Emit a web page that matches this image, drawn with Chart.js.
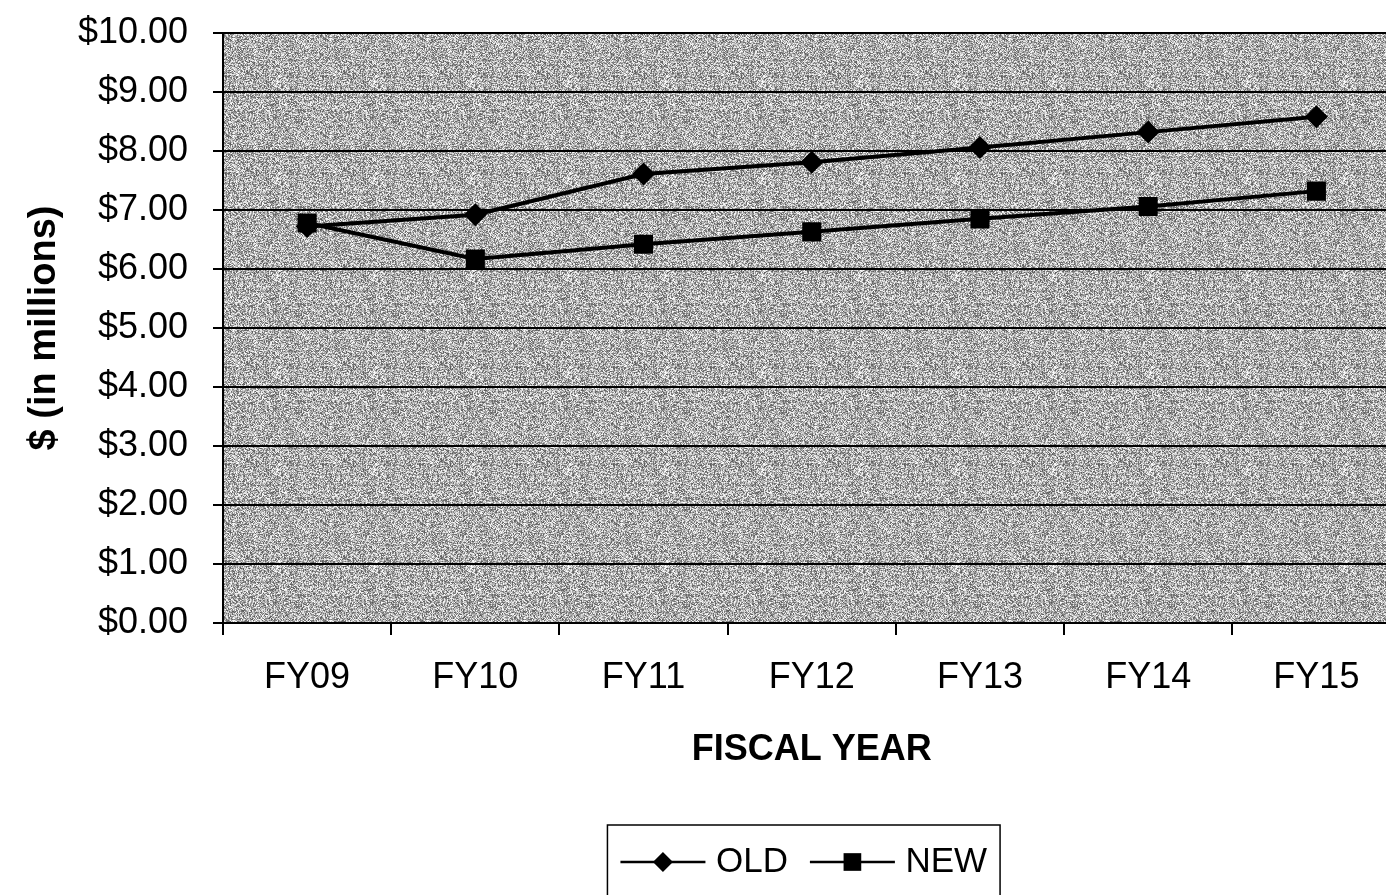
<!DOCTYPE html>
<html><head><meta charset="utf-8">
<script src="https://cdn.jsdelivr.net/npm/chart.js@4/dist/chart.umd.min.js"></script>
<style>
html,body{margin:0;padding:0;background:#fff;overflow:hidden;width:1386px;height:895px}
#wrap{position:relative;width:1414px;height:895px}
</style></head><body>
<div id="wrap"><canvas id="c"></canvas></div>
<script>
// ---- data ----
const categories = ['FY09', 'FY10', 'FY11', 'FY12', 'FY13', 'FY14', 'FY15'];
const oldValues = [6.72, 6.92, 7.61, 7.81, 8.06, 8.32, 8.58];
const newValues = [6.78, 6.17, 6.42, 6.63, 6.85, 7.06, 7.32];
const seriesNames = ['OLD', 'NEW'];
const yMin = 0, yMax = 10, yStep = 1;
const xTitle = 'FISCAL YEAR';
const yTitle = '$ (in millions)';

const FONT = '"Liberation Sans", Arial, Helvetica, sans-serif';
const LEG_LINE = 85;
const DIAMOND_R = 11.5;
const SQUARE_R = 13.5;

function makeTexture(ctx) {
  const s = 97;
  const c = document.createElement('canvas');
  c.width = c.height = s;
  const g = c.getContext('2d');
  const img = g.createImageData(s, s);
  for (let y = 0; y < s; y++) {
    for (let x = 0; x < s; x++) {
      let h = Math.sin(x * 12.9898 + y * 78.233) * 43758.5453;
      h -= Math.floor(h);
      const v = Math.round(90 + h * 165);
      const i = (y * s + x) * 4;
      img.data[i] = img.data[i + 1] = img.data[i + 2] = v;
      img.data[i + 3] = 255;
    }
  }
  g.putImageData(img, 0, 0);
  return ctx.createPattern(c, 'repeat');
}

const plotBg = {
  id: 'plotBg',
  beforeDraw(chart) {
    const {ctx, chartArea: a} = chart;
    ctx.save();
    ctx.fillStyle = makeTexture(ctx);
    ctx.fillRect(a.left, a.top, a.right - a.left, a.bottom - a.top);
    ctx.restore();
  }
};

const legendPlace = {
  id: 'legendPlace',
  afterLayout(chart) {
    const lg = chart.legend, a = chart.chartArea;
    if (!lg) return;
    lg.left = a.left - 8; lg.right = a.right - 8;
    lg.top -= 5.5; lg.bottom -= 5.5;
  }
};

const legendDecor = {
  id: 'legendDecor',
  afterDraw(chart) {
    const lg = chart.legend;
    if (!lg || !lg.legendHitBoxes) return;
    const ctx = chart.ctx;
    const boxes = lg.legendHitBoxes;
    ctx.save();
    boxes.forEach((hb, i) => {
      const ds = chart.data.datasets[i];
      const cy = hb.top + hb.height / 2;
      ctx.strokeStyle = '#000';
      ctx.lineWidth = 2.5;
      ctx.beginPath();
      ctx.moveTo(hb.left, cy);
      ctx.lineTo(hb.left + LEG_LINE, cy);
      ctx.stroke();
      ctx.fillStyle = '#000';
      Chart.helpers.drawPoint(ctx, {
        pointStyle: ds.pointStyle, radius: ds.pointStyle === 'rect' ? 12.5 : 10,
        rotation: 0, borderWidth: 0
      }, hb.left + LEG_LINE / 2, cy);
    });
    const first = boxes[0], last = boxes[boxes.length - 1];
    const cy = first.top + first.height / 2;
    const left = first.left - 13, right = last.left + last.width + 13;
    ctx.strokeStyle = '#000';
    ctx.lineWidth = 1.5;
    ctx.strokeRect(left, cy - 37, right - left, 80);
    ctx.restore();
  }
};

new Chart(document.getElementById('c'), {
  type: 'line',
  data: {
    labels: categories,
    datasets: [
      {
        label: seriesNames[0], data: oldValues, order: 1,
        borderColor: '#000', backgroundColor: '#000', borderWidth: 4,
        pointStyle: 'rectRot', pointRadius: DIAMOND_R, pointBorderWidth: 0,
        pointBackgroundColor: '#000', pointBorderColor: '#000', tension: 0
      },
      {
        label: seriesNames[1], data: newValues, order: 0,
        borderColor: '#000', backgroundColor: '#000', borderWidth: 4,
        pointStyle: 'rect', pointRadius: SQUARE_R, pointBorderWidth: 0,
        pointBackgroundColor: '#000', pointBorderColor: '#000', tension: 0
      }
    ]
  },
  options: {
    responsive: true,
    maintainAspectRatio: false,
    animation: false,
    events: [],
    layout: {padding: {top: 33, right: 0, left: 0, bottom: 0}},
    plugins: {
      tooltip: {enabled: false},
      legend: {
        display: true,
        position: 'bottom',
        align: 'center',
        labels: {
          font: {family: FONT, size: 35},
          color: '#000',
          boxWidth: 78,
          boxHeight: 35,
          padding: 22,
          generateLabels(chart) {
            return chart.data.datasets.map((ds, i) => ({
              text: ds.label, fillStyle: 'rgba(0,0,0,0)', strokeStyle: 'rgba(0,0,0,0)',
              lineWidth: 0, hidden: false, datasetIndex: i, fontColor: '#000'
            }));
          }
        }
      }
    },
    scales: {
      x: {
        offset: true,
        grid: {display: true, drawOnChartArea: false, drawTicks: true, tickLength: 12,
               offset: true, color: '#000', lineWidth: 2},
        border: {display: true, color: '#000', width: 2},
        ticks: {font: {family: FONT, size: 36}, color: '#000', padding: 21, maxRotation: 0, autoSkip: false},
        title: {display: true, text: xTitle, color: '#000',
                font: {family: FONT, size: 36, weight: 'bold'}, padding: {top: 0, bottom: 56}},
        afterFit(scale) { scale.height = 205; }
      },
      y: {
        min: yMin, max: yMax,
        grid: {display: true, drawOnChartArea: true, drawTicks: true, tickLength: 10,
               color: '#000', lineWidth: 2},
        border: {display: true, color: '#000', width: 2},
        ticks: {stepSize: yStep, font: {family: FONT, size: 36}, color: '#000', padding: 25,
                callback: v => '$' + Number(v).toFixed(2)},
        title: {display: true, text: yTitle, color: '#000',
                font: {family: FONT, size: 38, weight: 'bold'}, padding: {top: 22, bottom: 0}},
        afterFit(scale) { scale.width = 223; scale.paddingTop = 0; scale.paddingBottom = 0; }
      }
    }
  },
  plugins: [plotBg, legendPlace, legendDecor]
});
</script>
</body></html>
